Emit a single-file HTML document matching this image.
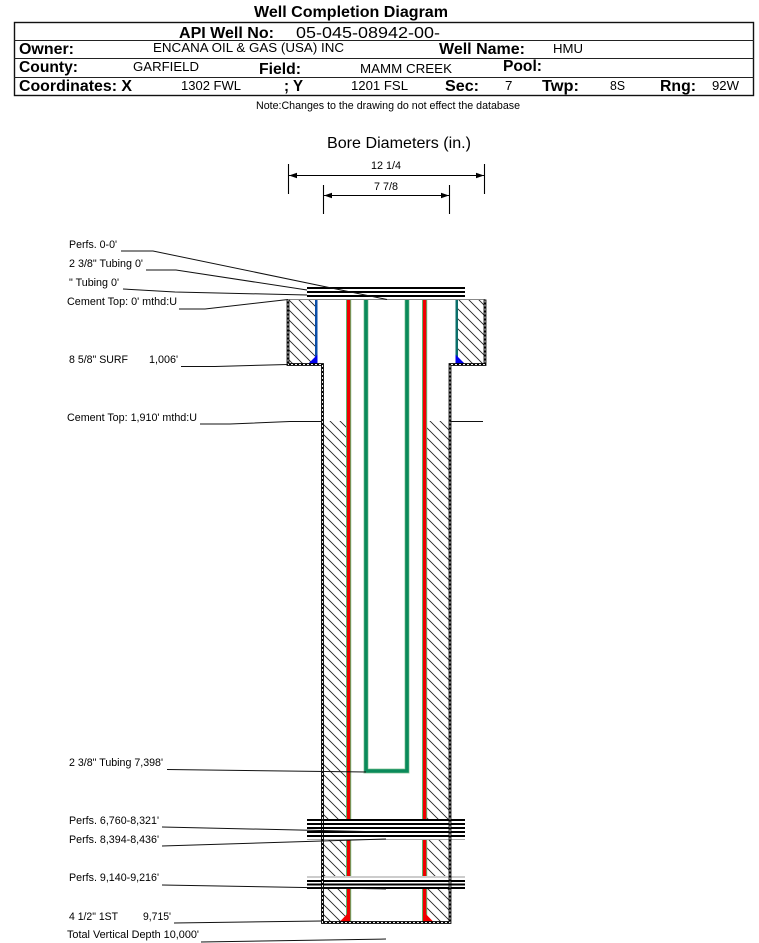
<!DOCTYPE html>
<html>
<head>
<meta charset="utf-8">
<style>
html,body{margin:0;padding:0;background:#fff;width:759px;height:943px;overflow:hidden}
svg{display:block}
text{font-family:"Liberation Sans",Arial,sans-serif;fill:#000}
.b{font-weight:bold}
.h{font-size:16px;font-weight:bold}
.v{font-size:13.33px}
.l{font-size:10.67px}
</style>
</head>
<body>
<svg width="759" height="943" viewBox="0 0 759 943" xmlns="http://www.w3.org/2000/svg">
<defs>
<pattern id="hatch" patternUnits="userSpaceOnUse" width="10" height="10" patternTransform="translate(0,1)">
<path d="M-1,-1 L11,11 M-1,9 L1,11 M9,-1 L11,1" stroke="#222" stroke-width="0.85" fill="none"/>
</pattern>
</defs>
<text x="254" y="17" class="b" font-size="16" textLength="194" lengthAdjust="spacingAndGlyphs">Well Completion Diagram</text>

<rect x="14.5" y="22.5" width="739" height="73" fill="none" stroke="#111" stroke-width="1.4"/>
<line x1="14" y1="40.5" x2="754" y2="40.5" stroke="#222"/>
<line x1="14" y1="58.5" x2="754" y2="58.5" stroke="#222"/>
<line x1="14" y1="77.5" x2="754" y2="77.5" stroke="#222"/>

<text x="179" y="38" class="h" textLength="95" lengthAdjust="spacingAndGlyphs">API Well No:</text>
<text x="296" y="38" font-size="16" textLength="144" lengthAdjust="spacingAndGlyphs">05-045-08942-00-</text>
<text x="19" y="54" class="h" textLength="55" lengthAdjust="spacingAndGlyphs">Owner:</text>
<text x="153" y="52" class="v" textLength="191" lengthAdjust="spacingAndGlyphs">ENCANA OIL &amp; GAS (USA) INC</text>
<text x="439" y="54" class="h" textLength="86" lengthAdjust="spacingAndGlyphs">Well Name:</text>
<text x="553" y="53" class="v" textLength="30" lengthAdjust="spacingAndGlyphs">HMU</text>
<text x="19" y="72" class="h" textLength="59" lengthAdjust="spacingAndGlyphs">County:</text>
<text x="133" y="71" class="v" textLength="66" lengthAdjust="spacingAndGlyphs">GARFIELD</text>
<text x="259" y="74" class="h" textLength="42" lengthAdjust="spacingAndGlyphs">Field:</text>
<text x="360" y="73" class="v" textLength="92" lengthAdjust="spacingAndGlyphs">MAMM CREEK</text>
<text x="503" y="71" class="h" textLength="39" lengthAdjust="spacingAndGlyphs">Pool:</text>
<text x="19" y="91" class="h" textLength="113" lengthAdjust="spacingAndGlyphs">Coordinates: X</text>
<text x="181" y="90" class="v" textLength="60" lengthAdjust="spacingAndGlyphs">1302 FWL</text>
<text x="284" y="91" class="h" textLength="19" lengthAdjust="spacingAndGlyphs">; Y</text>
<text x="351" y="90" class="v" textLength="57" lengthAdjust="spacingAndGlyphs">1201 FSL</text>
<text x="445" y="91" class="h" textLength="34" lengthAdjust="spacingAndGlyphs">Sec:</text>
<text x="505" y="90" class="v">7</text>
<text x="542" y="91" class="h" textLength="37" lengthAdjust="spacingAndGlyphs">Twp:</text>
<text x="610" y="90" class="v" textLength="15" lengthAdjust="spacingAndGlyphs">8S</text>
<text x="660" y="91" class="h" textLength="36" lengthAdjust="spacingAndGlyphs">Rng:</text>
<text x="712" y="90" class="v" textLength="27" lengthAdjust="spacingAndGlyphs">92W</text>
<text x="256" y="109" font-size="10.67" textLength="264" lengthAdjust="spacingAndGlyphs">Note:Changes to the drawing do not effect the database</text>

<text x="327" y="148" font-size="16" textLength="144" lengthAdjust="spacingAndGlyphs">Bore Diameters (in.)</text>
<text x="371" y="169" class="l" textLength="30" lengthAdjust="spacingAndGlyphs">12 1/4</text>
<text x="374" y="190" class="l" textLength="24" lengthAdjust="spacingAndGlyphs">7 7/8</text>
<g stroke="#000" stroke-width="1.1" fill="none">
<line x1="288.5" y1="164" x2="288.5" y2="194"/>
<line x1="484.5" y1="164" x2="484.5" y2="194"/>
<line x1="289" y1="175.5" x2="484" y2="175.5"/>
<line x1="323.5" y1="185" x2="323.5" y2="214"/>
<line x1="449.5" y1="185" x2="449.5" y2="214"/>
<line x1="324" y1="195.5" x2="449" y2="195.5"/>
</g>
<g fill="#000">
<polygon points="289,175.5 297,172.8 297,178.2"/>
<polygon points="484,175.5 476,172.8 476,178.2"/>
<polygon points="324,195.5 332,192.8 332,198.2"/>
<polygon points="449,195.5 441,192.8 441,198.2"/>
</g>

<!-- cement -->
<rect x="288" y="299" width="28" height="65" fill="url(#hatch)"/>
<rect x="457" y="299" width="28" height="65" fill="url(#hatch)"/>
<rect x="323" y="421" width="25" height="501" fill="url(#hatch)"/>
<rect x="425" y="421" width="25" height="501" fill="url(#hatch)"/>

<!-- surface casing inner -->
<rect x="315" y="299" width="2.5" height="65" fill="#0b4fa8"/>
<rect x="455.5" y="299" width="2.5" height="65" fill="#0b6f6a"/>
<polygon points="308,364 317.5,364 317.5,354.5" fill="#0000ee"/>
<polygon points="455.5,364 465,364 455.5,354.5" fill="#0000ee"/>

<!-- production casing -->
<rect x="346" y="299" width="5.2" height="623" fill="#5fb56c"/>
<rect x="347" y="299" width="3.2" height="623" fill="#f00000"/>
<rect x="422" y="299" width="5.2" height="623" fill="#5fb56c"/>
<rect x="423" y="299" width="3.2" height="623" fill="#f00000"/>
<polygon points="339.5,922 350,922 350,911" fill="#f00000"/>
<polygon points="423,922 433.5,922 423,911" fill="#f00000"/>

<!-- tubing -->
<path d="M366,299 V771 H407 V299" fill="none" stroke="#9fd2a8" stroke-width="5"/>
<path d="M366,299 V771 H407 V299" fill="none" stroke="#0a8a5a" stroke-width="3.6"/>
<line x1="365" y1="299.5" x2="408" y2="299.5" stroke="#0a5a3a" stroke-width="1"/>

<!-- top line -->
<line x1="288" y1="299.5" x2="485" y2="299.5" stroke="#888" stroke-width="1"/>

<!-- perforation bands -->
<rect x="307" y="819" width="158" height="21" fill="#fff"/>
<rect x="307" y="876" width="158" height="13" fill="#fff"/>
<g stroke="#000" stroke-width="2">
<line x1="307" y1="288" x2="465" y2="288"/>
<line x1="307" y1="292" x2="465" y2="292"/>
<line x1="307" y1="296" x2="465" y2="296"/>
<line x1="307" y1="820" x2="465" y2="820"/>
<line x1="307" y1="824" x2="465" y2="824"/>
<line x1="307" y1="828" x2="465" y2="828"/>
<line x1="307" y1="832" x2="465" y2="832"/>
<line x1="307" y1="836" x2="465" y2="836"/>
<line x1="307" y1="881" x2="465" y2="881"/>
<line x1="307" y1="884.5" x2="465" y2="884.5"/>
<line x1="307" y1="888" x2="465" y2="888"/>
</g>
<line x1="307" y1="839.5" x2="465" y2="839.5" stroke="#aaa" stroke-width="1"/>
<line x1="307" y1="877" x2="465" y2="877" stroke="#999" stroke-width="1"/>

<!-- hole outline -->
<g fill="none" stroke-linejoin="miter">
<path d="M288,299.5 V364.5 H322.5 V922.5 H450 V364.5 H485 V299.5" stroke="#000" stroke-width="2.8"/>
<path d="M288,299.5 V364.5 H322.5 V922.5 H450 V364.5 H485 V299.5" stroke="#eee" stroke-width="1" stroke-dasharray="2 2"/>
</g>

<!-- leaders -->
<g fill="none" stroke="#111" stroke-width="1">
<polyline points="121,251 153,251 387,299.5"/>
<polyline points="146,270 176,270 307,290"/>
<polyline points="123,289 175,292 307,295"/>
<polyline points="179,309 205,309 288,299.5"/>
<polyline points="181,366.5 215,366.5 288,364.5"/>
<polyline points="200,424 230,424 290,421.5 322,421.5"/>
<line x1="450" y1="421.5" x2="483" y2="421.5"/>
<polyline points="167,769.5 366,772"/>
<polyline points="162,827 386,832"/>
<polyline points="162,846 386,839"/>
<polyline points="162,885 386,889"/>
<polyline points="174,923 322,921"/>
<polyline points="201,942 386,939"/>
</g>

<!-- labels -->
<text x="69" y="248" class="l" textLength="48" lengthAdjust="spacingAndGlyphs">Perfs. 0-0'</text>
<text x="69" y="267" class="l" textLength="74" lengthAdjust="spacingAndGlyphs">2 3/8" Tubing 0'</text>
<text x="69" y="286" class="l" textLength="50" lengthAdjust="spacingAndGlyphs">" Tubing 0'</text>
<text x="67" y="305" class="l" textLength="110" lengthAdjust="spacingAndGlyphs">Cement Top: 0' mthd:U</text>
<text x="69" y="363" class="l" textLength="59" lengthAdjust="spacingAndGlyphs">8 5/8" SURF</text>
<text x="149" y="363" class="l" textLength="29" lengthAdjust="spacingAndGlyphs">1,006'</text>
<text x="67" y="421" class="l" textLength="130" lengthAdjust="spacingAndGlyphs">Cement Top: 1,910' mthd:U</text>
<text x="69" y="766" class="l" textLength="94" lengthAdjust="spacingAndGlyphs">2 3/8" Tubing 7,398'</text>
<text x="69" y="824" class="l" textLength="90" lengthAdjust="spacingAndGlyphs">Perfs. 6,760-8,321'</text>
<text x="69" y="843" class="l" textLength="90" lengthAdjust="spacingAndGlyphs">Perfs. 8,394-8,436'</text>
<text x="69" y="881" class="l" textLength="90" lengthAdjust="spacingAndGlyphs">Perfs. 9,140-9,216'</text>
<text x="69" y="920" class="l" textLength="49" lengthAdjust="spacingAndGlyphs">4 1/2" 1ST</text>
<text x="143" y="920" class="l" textLength="28" lengthAdjust="spacingAndGlyphs">9,715'</text>
<text x="67" y="938" class="l" textLength="132" lengthAdjust="spacingAndGlyphs">Total Vertical Depth 10,000'</text>
</svg>
</body>
</html>
